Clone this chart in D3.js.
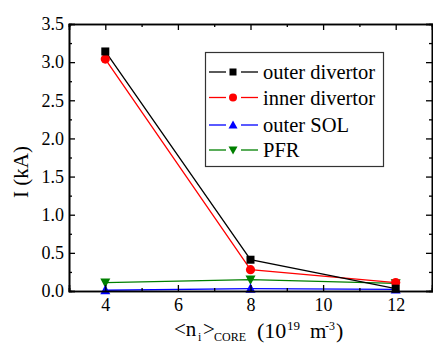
<!DOCTYPE html>
<html>
<head>
<meta charset="utf-8">
<script src="https://cdn.jsdelivr.net/npm/d3@7"></script>
<style>
  body { margin: 0; background: #fff; }
  svg text { font-family: "Liberation Serif", "Times New Roman", serif !important; fill: #000; }
</style>
</head>
<body>
<div id="chart"></div>
<script>
// density values (10^19 m^-3)
const density = [4, 8, 12];
const outerDivertor = [3.14, 0.41, 0.03];
const innerDivertor = [3.04, 0.28, 0.11];
const outerSOL = [0.01, 0.03, 0.02];
const pfr = [0.11, 0.15, 0.10];
const xTicks = [4, 6, 8, 10, 12];
const yTicks = [0, 0.5, 1.0, 1.5, 2.0, 2.5, 3.0, 3.5];

const seriesList = [
  { name: "outer divertor", values: outerDivertor, color: "#000000", symbol: "square" },
  { name: "inner divertor", values: innerDivertor, color: "#ff0000", symbol: "circle" },
  { name: "outer SOL", values: outerSOL, color: "#0000ff", symbol: "up" },
  { name: "PFR", values: pfr, color: "#008000", symbol: "down" },
];

const W = 433, H = 345;
const margin = { top: 24, right: 1, bottom: 54, left: 69 };

const svg = d3.select("#chart").append("svg")
  .attr("width", W).attr("height", H);

const x = d3.scaleLinear().domain([3, 13]).range([margin.left, W - margin.right]);
const y = d3.scaleLinear().domain([0, 3.5]).range([H - margin.bottom, margin.top]);

// symbols
function drawSymbol(g, kind, cx, cy, color) {
  if (kind === "square") {
    g.append("rect").attr("x", cx - 4).attr("y", cy - 4).attr("width", 8).attr("height", 8).attr("fill", color);
  } else if (kind === "circle") {
    g.append("circle").attr("cx", cx).attr("cy", cy).attr("r", 4.6).attr("fill", color);
  } else if (kind === "up") {
    g.append("path").attr("d", `M${cx},${cy - 5.5}L${cx + 5},${cy + 4}L${cx - 5},${cy + 4}Z`).attr("fill", color);
  } else {
    g.append("path").attr("d", `M${cx},${cy + 5.5}L${cx + 5},${cy - 4}L${cx - 5},${cy - 4}Z`).attr("fill", color);
  }
}

const line = d3.line().x((d, i) => x(density[i])).y(d => y(d));

// draw series (last first so black on top)
const plot = svg.append("g");
seriesList.slice().reverse().forEach(s => {
  plot.append("path").datum(s.values)
    .attr("d", line).attr("fill", "none")
    .attr("stroke", s.color).attr("stroke-width", 1.3);
});
seriesList.slice().reverse().forEach(s => {
  s.values.forEach((v, i) => drawSymbol(plot, s.symbol, x(density[i]), y(v), s.color));
});

// axes, ticks inward
const minorX = d3.range(3, 13.01, 1).filter(v => xTicks.indexOf(v) < 0);
const minorY = d3.range(0.25, 3.5, 0.5);

const axBottom = svg.append("g").attr("transform", `translate(0,${y(0)})`)
  .call(d3.axisBottom(x).tickValues(xTicks).tickSize(-6).tickPadding(7).tickFormat(d3.format("d")));
axBottom.append("g").call(d3.axisBottom(x).tickValues(minorX).tickSize(-3).tickFormat(""));

const axTop = svg.append("g").attr("transform", `translate(0,${y(3.5)})`)
  .call(d3.axisTop(x).tickValues(xTicks).tickSize(-6).tickFormat(""));
axTop.append("g").call(d3.axisTop(x).tickValues(minorX).tickSize(-3).tickFormat(""));

const axLeft = svg.append("g").attr("transform", `translate(${x(3)},0)`)
  .call(d3.axisLeft(y).tickValues(yTicks).tickSize(-6).tickPadding(5).tickFormat(d3.format(".1f")));
axLeft.append("g").call(d3.axisLeft(y).tickValues(minorY).tickSize(-3).tickFormat(""));

const axRight = svg.append("g").attr("transform", `translate(${x(13)},0)`)
  .call(d3.axisRight(y).tickValues(yTicks).tickSize(-6).tickFormat(""));
axRight.append("g").call(d3.axisRight(y).tickValues(minorY).tickSize(-3).tickFormat(""));

svg.selectAll(".domain").attr("stroke", "#000").attr("stroke-width", 1.6);
svg.selectAll(".tick line").attr("stroke", "#000").attr("stroke-width", 1.3);
svg.selectAll(".tick text").attr("font-size", 18).attr("fill", "#000");

// legend
const leg = svg.append("g");
leg.append("rect").attr("x", 205.5).attr("y", 52.5).attr("width", 178).attr("height", 114)
  .attr("fill", "#fff").attr("stroke", "#333").attr("stroke-width", 1.2);
const legY = [72, 97.5, 125, 150];
seriesList.forEach((s, i) => {
  const ly = legY[i];
  leg.append("line").attr("x1", 209).attr("x2", 226).attr("y1", ly).attr("y2", ly)
    .attr("stroke", s.color).attr("stroke-width", 1.3);
  leg.append("line").attr("x1", 241).attr("x2", 258).attr("y1", ly).attr("y2", ly)
    .attr("stroke", s.color).attr("stroke-width", 1.3);
  const g = leg.append("g");
  if (s.symbol === "square") g.append("rect").attr("x", 229.5).attr("y", ly - 3.5).attr("width", 7).attr("height", 7).attr("fill", s.color);
  else if (s.symbol === "circle") g.append("circle").attr("cx", 233).attr("cy", ly).attr("r", 4).attr("fill", s.color);
  else if (s.symbol === "up") g.append("path").attr("d", `M233,${ly - 4.5}L237.5,${ly + 3.5}L228.5,${ly + 3.5}Z`).attr("fill", s.color);
  else g.append("path").attr("d", `M233,${ly + 4.5}L237.5,${ly - 3.5}L228.5,${ly - 3.5}Z`).attr("fill", s.color);
  leg.append("text").attr("x", 263).attr("y", ly + 7).attr("font-size", 20.5).text(s.name);
});

// axis titles
svg.append("text")
  .attr("transform", "translate(28,172) rotate(-90)")
  .attr("text-anchor", "middle").attr("font-size", 21)
  .text("I (kA)");

const xl = svg.append("text").attr("y", 336).attr("font-size", 21);
xl.append("tspan").attr("x", 174).text("<n");
xl.append("tspan").attr("x", 198).attr("dy", 5).attr("font-size", 12).text("i");
xl.append("tspan").attr("x", 203).attr("dy", -5).text(">");
xl.append("tspan").attr("x", 214).attr("dy", 5).attr("font-size", 12).text("CORE");
xl.append("tspan").attr("x", 257).attr("dy", -3).attr("font-size", 22).text("(10");
xl.append("tspan").attr("x", 287).attr("dy", -8).attr("font-size", 13).text("19");
xl.append("tspan").attr("x", 310).attr("dy", 8).text("m");
xl.append("tspan").attr("x", 325).attr("dy", -8).attr("font-size", 12).text("-3");
xl.append("tspan").attr("x", 336).attr("dy", 8).attr("font-size", 22).text(")");
</script>
</body>
</html>
